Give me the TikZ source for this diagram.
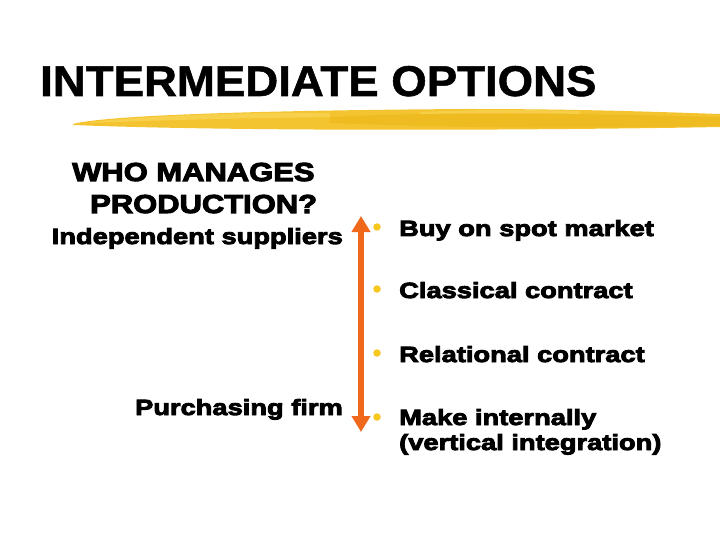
\documentclass[tikz,border=0pt]{standalone}
\usepackage{fontspec}
\setmainfont{Liberation Sans}
\newfontfamily\heavy{Liberation Sans}[UprightFont={* Bold}, FakeBold=4, FakeStretch=1.24]
\newfontfamily\heavyh{Liberation Sans}[UprightFont={* Bold}, FakeBold=4, FakeStretch=1.19]
\newfontfamily\titlef{Liberation Sans}[UprightFont={* Bold}, FakeBold=1.2, FakeStretch=1.06]
\usetikzlibrary{arrows.meta}
\definecolor{brushA}{RGB}{244,196,48}
\definecolor{brushB}{RGB}{236,184,28}
\definecolor{brushC}{RGB}{250,216,96}
\definecolor{arrowc}{RGB}{240,104,28}
\definecolor{bullc}{RGB}{246,200,30}
\tikzset{
  txt/.style={inner sep=0pt, anchor=base west, font=\heavy\fontsize{22}{26}\selectfont},
  lbl/.style={inner sep=0pt, anchor=base east, font=\heavy\fontsize{22}{26}\selectfont},
  head/.style={inner sep=0pt, anchor=base west, font=\heavyh\fontsize{26}{30}\selectfont},
  bul/.style={circle, fill=bullc, inner sep=0pt, minimum size=7.5pt},
}
\begin{document}
\begin{tikzpicture}[x=1pt,y=-1pt]
\useasboundingbox (0,0) rectangle (720,540);
% title
\node[inner sep=0pt, anchor=base west, font=\titlef\fontsize{43}{48}\selectfont] (title) at (40,96) {INTERMEDIATE OPTIONS};
% brush stroke
\fill[brushA] (73,124) .. controls (110,114) and (300,110) .. (470,109) .. controls (580,109) and (660,112) .. (720,114) -- (720,127) .. controls (560,130) and (250,132) .. (73,125) -- cycle;
\fill[brushB, opacity=0.7] (330,117) .. controls (450,111) and (600,114) .. (720,117) -- (720,126) .. controls (600,129) and (450,128) .. (330,123) -- cycle;
\fill[brushC, opacity=0.6] (90,122) .. controls (160,115) and (250,112) .. (330,113) -- (330,117) .. controls (250,118) and (160,120) .. (90,123) -- cycle;
\fill[brushC, opacity=0.5] (420,112) .. controls (480,109) and (540,110) .. (580,111) -- (580,114) .. controls (540,113) and (480,113) .. (420,114) -- cycle;
% left labels
\node[head] (who) at (72,181) {WHO MANAGES};
\node[head] (prod) at (90,213) {PRODUCTION?};
\node[lbl] (indep) at (343,244) {Independent suppliers};
\node[lbl] (purch) at (343,415) {Purchasing firm};
% arrow
\coordinate (atop) at (361,216);
\coordinate (abot) at (361,432);
\draw[arrowc, line width=6pt, {Triangle[width=18pt,length=16pt]}-{Triangle[width=18pt,length=16pt]}] (atop) -- (abot);
% bullets
\node[bul] (b1) at (377,227) {};
\node[bul] (b2) at (377,289) {};
\node[bul] (b3) at (377,353) {};
\node[bul] (b4) at (377,417) {};
\node[txt] (t1) at (399,236) {Buy on spot market};
\node[txt] (t2) at (399,298) {Classical contract};
\node[txt] (t3) at (399,362) {Relational contract};
\node[txt] (t4) at (399,425) {Make internally};
\node[txt] (t5) at (399,450) {(vertical integration)};
\end{tikzpicture}
\end{document}
